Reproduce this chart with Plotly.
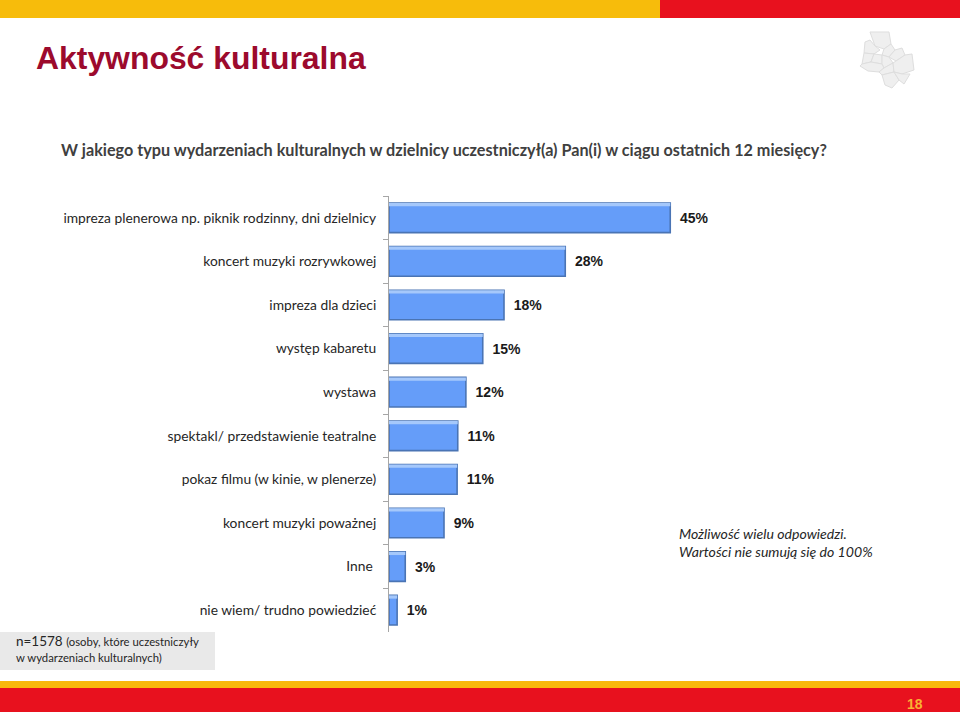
import plotly.graph_objects as go

W, H = 960, 712
categories = [
    "impreza plenerowa np. piknik rodzinny, dni dzielnicy",
    "koncert muzyki rozrywkowej",
    "impreza dla dzieci",
    "występ kabaretu",
    "wystawa",
    "spektakl/ przedstawienie teatralne",
    "pokaz filmu (w kinie, w plenerze)",
    "koncert muzyki poważnej",
    "Inne ",
    "nie wiem/ trudno powiedzieć",
]
values = [45.0, 28.2, 18.4, 15.0, 12.3, 11.0, 10.9, 8.8, 2.6, 1.3]
labels = ["45%", "28%", "18%", "15%", "12%", "11%", "11%", "9%", "3%", "1%"]

BAR_W = 0.68
HI_W = 0.075
CAT_FONT = "Lato"
ARIAL = "Liberation Sans"

fig = go.Figure()
fig.add_trace(go.Bar(
    y=categories, x=values, orientation="h", width=BAR_W,
    marker=dict(color="#659df9", line=dict(color="#4a74b4", width=1.6)),
    text=["<b>\u00a0\u2009" + t + "</b>" for t in labels], textposition="outside", cliponaxis=False,
    textfont=dict(family=ARIAL, size=14, color="#1a1a1a"),
    hoverinfo="skip", showlegend=False,
))
fig.add_trace(go.Bar(
    y=categories, x=values, orientation="h", width=HI_W,
    offset=-BAR_W / 2,
    marker=dict(color="#a5c8fb", line=dict(width=0)),
    hoverinfo="skip", showlegend=False,
))


def px_x(v):
    return v / W


def px_y(v):
    return 1 - v / H


def rect(x0, y0, x1, y1, color):
    return dict(type="rect", xref="paper", yref="paper", x0=px_x(x0), x1=px_x(x1),
                y0=px_y(y0), y1=px_y(y1), fillcolor=color, line=dict(width=0), layer="below")


def poly(points, fill="#efefef", line="#dedede"):
    d = "M " + " L ".join(f"{px_x(x):.5f},{px_y(y):.5f}" for x, y in points) + " Z"
    return dict(type="path", xref="paper", yref="paper", path=d, fillcolor=fill,
                line=dict(color=line, width=1), layer="below")


districts = [
    [(870, 32), (889, 32), (891, 44), (884, 49), (875, 46)],
    [(865, 42), (870, 40), (875, 46), (880, 50), (874, 54), (864, 53)],
    [(864, 53), (874, 54), (871, 62), (862, 64)],
    [(884, 49), (891, 44), (895, 50), (889, 57), (882, 55)],
    [(895, 50), (902, 48), (905, 55), (896, 61), (889, 57)],
    [(874, 54), (882, 55), (882, 64), (871, 62)],
    [(882, 55), (889, 57), (893, 63), (884, 68), (882, 64)],
    [(860, 66), (862, 64), (871, 62), (882, 64), (884, 68), (879, 72), (868, 71)],
    [(879, 72), (884, 68), (893, 63), (894, 72), (882, 75)],
    [(893, 63), (896, 61), (905, 55), (912, 54), (914, 70), (902, 74), (894, 72)],
    [(882, 75), (894, 72), (899, 80), (892, 88), (885, 85)],
    [(894, 72), (902, 74), (910, 74), (904, 84), (899, 80)],
]

shapes = [
    rect(0, 0, 660, 18, "#f7bc0b"),
    rect(660, 0, W, 18, "#e8111e"),
    rect(0, 681, W, 688, "#f9b90c"),
    rect(0, 688, W, H, "#e8111e"),
    rect(0, 632, 215, 670, "#e9e9e9"),
] + [poly(p) for p in districts]


def note(x, y, text, size, color="#262626", anchor="left", family=CAT_FONT):
    return dict(xref="paper", yref="paper", x=px_x(x), y=px_y(y), text=text, showarrow=False,
                xanchor=anchor, yanchor="middle", align=anchor,
                font=dict(family=family, size=size, color=color))


annotations = [
    note(34, 58, "<b>Aktywność kulturalna</b>", 31.9, "#9c0a2d", family=ARIAL),
    note(59, 149, "<b>W jakiego typu wydarzeniach kulturalnych w dzielnicy uczestniczył(a) Pan(i) w ciągu ostatnich 12 miesięcy?</b>", 16.2, "#404040"),
    note(14, 641, "n=1578 <span style='font-size:11.3px'>(osoby, które uczestniczyły</span>", 13.5),
    note(14, 657, "w wydarzeniach kulturalnych)", 11.3),
    note(677, 533, "<i>Możliwość wielu odpowiedzi.</i>", 14.1),
    note(677, 551, "<i>Wartości nie sumują się do 100%</i>", 14.1),
    note(915, 704, "<b>18</b>", 14, "#f9b233", anchor="center", family=ARIAL),
]

PX_PER_UNIT = 6.25
fig.update_layout(
    width=W, height=H, autosize=False,
    margin=dict(l=0, r=0, t=0, b=0),
    paper_bgcolor="white", plot_bgcolor="white",
    barmode="overlay", shapes=shapes, annotations=annotations,
    xaxis=dict(domain=[389 / W, 900 / W], range=[0, 511 / PX_PER_UNIT], visible=False),
    yaxis=dict(
        domain=[px_y(632), px_y(196)], autorange="reversed", type="category",
        tickson="boundaries", ticks="outside", ticklen=5, tickwidth=1, tickcolor="#a6a6a6",
        showline=True, linecolor="#a6a6a6", linewidth=1, showgrid=False,
        tickfont=dict(family=CAT_FONT, size=13.8, color="#262626"),
        ticklabelstandoff=9,
    ),
)

fig.write_html("out.html", config=dict(displayModeBar=False),
               post_script="document.body.style.margin='0';document.body.style.overflow='hidden';")
